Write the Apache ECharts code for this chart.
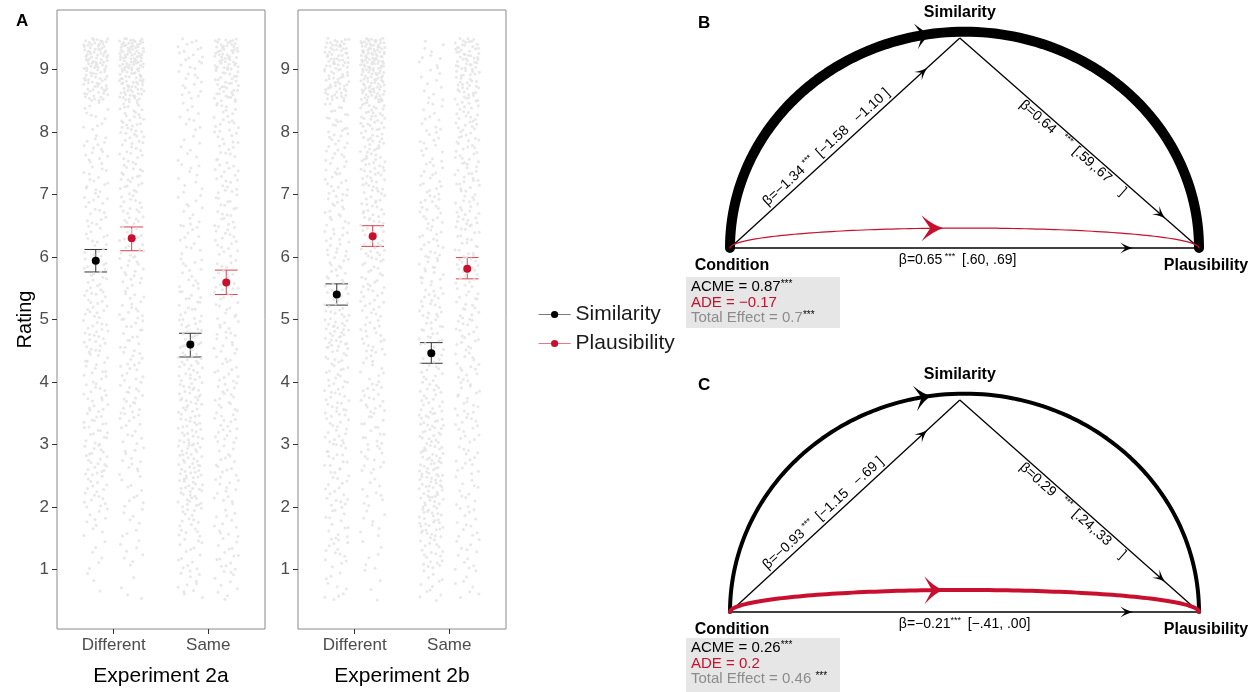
<!DOCTYPE html>
<html>
<head>
<meta charset="utf-8">
<script src="https://cdn.jsdelivr.net/npm/echarts@6/dist/echarts.min.js"></script>
<style>
  html, body { margin: 0; padding: 0; background: #fff; }
  #main { width: 1256px; height: 692px; }
</style>
</head>
<body>
<div id="main"></div>
<script>
// ---- panel A data ----
var conditions = ['Different', 'Same'];
var experiments = ['Experiment 2a', 'Experiment 2b'];
var yTicks = [1, 2, 3, 4, 5, 6, 7, 8, 9];
// lower edge of each half-point rating bin
var binLow = [0.5, 1, 1.5, 2, 2.5, 3, 3.5, 4, 4.5, 5, 5.5, 6, 6.5, 7, 7.5, 8, 8.5, 9];

// number of ratings per bin
var simDiff2a = [3, 6, 10, 18, 22, 20, 18, 18, 22, 20, 18, 16, 16, 16, 16, 12, 45, 60];
var plaDiff2a = [4, 8, 8, 10, 12, 14, 18, 16, 16, 16, 18, 18, 20, 22, 22, 28, 55, 70];
var simSame2a = [12, 14, 18, 30, 32, 28, 28, 24, 22, 18, 14, 12, 12, 10, 8, 10, 14, 18];
var plaSame2a = [10, 14, 12, 14, 14, 18, 18, 16, 16, 16, 16, 18, 18, 18, 18, 20, 35, 50];
var simDiff2b = [10, 14, 14, 16, 18, 20, 22, 20, 32, 22, 18, 18, 18, 18, 18, 20, 40, 50];
var plaDiff2b = [4, 6, 8, 10, 14, 16, 18, 14, 18, 18, 20, 22, 24, 28, 30, 35, 60, 75];
var simSame2b = [12, 20, 30, 34, 32, 28, 22, 18, 20, 20, 18, 18, 18, 16, 14, 12, 10, 10];
var plaSame2b = [8, 12, 12, 12, 14, 16, 16, 16, 18, 18, 20, 20, 22, 22, 22, 26, 34, 45];

// means and intervals: [Different, Same]
var simMean2a = [5.94, 4.60], simLo2a = [5.76, 4.40], simHi2a = [6.12, 4.78];
var plaMean2a = [6.30, 5.59], plaLo2a = [6.10, 5.40], plaHi2a = [6.48, 5.79];
var simMean2b = [5.40, 4.46], simLo2b = [5.23, 4.30], simHi2b = [5.57, 4.63];
var plaMean2b = [6.33, 5.81], plaLo2b = [6.17, 5.65], plaHi2b = [6.50, 5.99];

// ---- panels B / C data ----
var nodeNames = ['Condition', 'Similarity', 'Plausibility'];
var coefB = ['β=−1.34', 'β=0.64', 'β=0.65'];
var ciB = ['[−1.58   −1.10 ]', '[.59,.67    ]', '[.60, .69]'];
var effB = ['ACME = 0.87', 'ADE = −0.17', 'Total Effect = 0.7'];
var effStarsB = ['***', '', '***'];
var coefC = ['β=−0.93', 'β=0.29', 'β=−0.21'];
var ciC = ['[−1.15   −.69 ]', '[.24,.33    ]', '[−.41, .00]'];
var effC = ['ACME = 0.26', 'ADE = 0.2', 'Total Effect = 0.46 '];
var effStarsC = ['***', '', '***'];

var FONT = '"Liberation Sans", Arial, sans-serif';
var RED = '#c8102e';
var DODGE = 0.19;

// van der Corput style sequence, used only to spread points inside a bin
function halton(n, base) {
  var f = 1, r = 0;
  while (n > 0) { f = f / base; r += f * (n % base); n = Math.floor(n / base); }
  return r;
}

// deterministic jitter inside each rating bin
function jitterPoints(counts, xc, seed) {
  var pts = [];
  counts.forEach(function (n, i) {
    for (var k = 0; k < n; k++) {
      var idx = seed * 211 + i * 37 + k + 1;
      var u = halton(idx, 2);
      var v = halton(idx, 3);
      pts.push([xc + (u - 0.5) * 0.26, binLow[i] + v * 0.5]);
    }
  });
  return pts;
}

function errorBarItem(color) {
  return function (params, api) {
    var x = api.value(0);
    var lo = api.coord([x, api.value(1)]);
    var hi = api.coord([x, api.value(2)]);
    var half = api.size([0.12, 0])[0];
    var st = { stroke: color, lineWidth: 1 };
    return {
      type: 'group',
      children: [
        { type: 'line', shape: { x1: lo[0], y1: lo[1], x2: hi[0], y2: hi[1] }, style: st },
        { type: 'line', shape: { x1: lo[0] - half, y1: lo[1], x2: lo[0] + half, y2: lo[1] }, style: st },
        { type: 'line', shape: { x1: hi[0] - half, y1: hi[1], x2: hi[0] + half, y2: hi[1] }, style: st }
      ]
    };
  };
}

function panelSeries(idx, cols, sim, pla) {
  var pts = [].concat(
    jitterPoints(cols[0], 1 - DODGE, idx * 4 + 1), jitterPoints(cols[1], 1 + DODGE, idx * 4 + 2),
    jitterPoints(cols[2], 2 - DODGE, idx * 4 + 3), jitterPoints(cols[3], 2 + DODGE, idx * 4 + 4));
  var simX = [1 - DODGE, 2 - DODGE], plaX = [1 + DODGE, 2 + DODGE];
  return [{
    type: 'scatter', xAxisIndex: idx, yAxisIndex: idx, silent: true,
    symbolSize: 3, itemStyle: { color: '#e2e2e2' }, data: pts
  }, {
    type: 'custom', xAxisIndex: idx, yAxisIndex: idx, silent: true,
    renderItem: errorBarItem('#333'), encode: { x: 0, y: [1, 2] },
    data: simX.map(function (x, i) { return [x, sim[1][i], sim[2][i]]; })
  }, {
    type: 'custom', xAxisIndex: idx, yAxisIndex: idx, silent: true,
    renderItem: errorBarItem('#d8404f'), encode: { x: 0, y: [1, 2] },
    data: plaX.map(function (x, i) { return [x, pla[1][i], pla[2][i]]; })
  }, {
    name: 'Similarity', type: 'line', xAxisIndex: idx, yAxisIndex: idx, silent: true,
    symbol: 'circle', symbolSize: 8, itemStyle: { color: '#000' },
    lineStyle: { color: '#7a7a7a', opacity: 0 },
    data: simX.map(function (x, i) { return [x, sim[0][i]]; })
  }, {
    name: 'Plausibility', type: 'line', xAxisIndex: idx, yAxisIndex: idx, silent: true,
    symbol: 'circle', symbolSize: 8, itemStyle: { color: RED },
    lineStyle: { color: '#e27a88', opacity: 0 },
    data: plaX.map(function (x, i) { return [x, pla[0][i]]; })
  }];
}

// ---- mediation diagram ----
var nodePos = [[0, 0], [0.49, 1], [1, 0]];

function arrowHead(tip, ang, len, wid, color) {
  var ca = Math.cos(ang), sa = Math.sin(ang);
  function pt(a, b) {
    return (tip[0] + a * ca - b * sa).toFixed(2) + ' ' + (tip[1] + a * sa + b * ca).toFixed(2);
  }
  var d = 'M' + pt(0, 0) +
    'Q' + pt(-len * 0.45, -wid * 0.1) + ' ' + pt(-len, -wid / 2) +
    'L' + pt(-len * 0.6, 0) +
    'L' + pt(-len, wid / 2) +
    'Q' + pt(-len * 0.45, wid * 0.1) + ' ' + pt(0, 0) + 'Z';
  return { type: 'path', shape: { pathData: d }, style: { fill: color } };
}

function lerp(a, b, t) { return [a[0] + (b[0] - a[0]) * t, a[1] + (b[1] - a[1]) * t]; }

function diagramItem(d) {
  return function (params, api) {
    var c = api.coord(nodePos[0]), s = api.coord(nodePos[1]), p = api.coord(nodePos[2]);
    var kids = [];
    function onEllipse(ry, t) {
      return api.coord([0.5 - 0.5 * Math.cos(t), ry * Math.sin(t)]);
    }
    function tAt(x) { return Math.acos((0.5 - x) / 0.5); }
    var arc = [], red = [];
    for (var i = 0; i <= 120; i++) {
      var t = Math.PI * i / 120;
      arc.push(onEllipse(1.03, t));
      red.push(onEllipse(d.redRy, t));
    }
    // straight paths
    var lineSt = { stroke: '#000', lineWidth: 1.3 };
    kids.push({ type: 'line', shape: { x1: c[0], y1: c[1], x2: s[0], y2: s[1] }, style: lineSt });
    kids.push({ type: 'line', shape: { x1: s[0], y1: s[1], x2: p[0], y2: p[1] }, style: lineSt });
    kids.push({ type: 'line', shape: { x1: c[0], y1: c[1], x2: p[0], y2: p[1] }, style: lineSt });
    [[c, s], [s, p], [c, p]].forEach(function (e) {
      var tip = lerp(e[0], e[1], 0.86);
      var ang = Math.atan2(e[1][1] - e[0][1], e[1][0] - e[0][0]);
      kids.push(arrowHead(tip, ang, 13, 11, '#000'));
    });
    // ACME arc and ADE curve
    kids.push({ type: 'polyline', shape: { points: arc },
      style: { stroke: '#000', lineWidth: d.acmeW, fill: null, lineCap: 'round', lineJoin: 'round' } });
    kids.push({ type: 'polyline', shape: { points: red },
      style: { stroke: RED, lineWidth: d.adeW, fill: null, lineCap: 'round' } });
    var a1 = onEllipse(1.03, tAt(0.43)), a0 = onEllipse(1.03, tAt(0.40));
    kids.push(arrowHead(a1, Math.atan2(a1[1] - a0[1], a1[0] - a0[0]), d.arcArrow[0], d.arcArrow[1], '#000'));
    var r1 = onEllipse(d.redRy, tAt(0.455)), r0 = onEllipse(d.redRy, tAt(0.43));
    kids.push(arrowHead(r1, Math.atan2(r1[1] - r0[1], r1[0] - r0[0]), d.redArrow[0], d.redArrow[1], RED));

    // edge labels
    var rich = {
      n: { fontSize: 14, fontFamily: FONT, fill: '#000', lineHeight: 16 },
      s: { fontSize: 9, fontFamily: FONT, fill: '#000', lineHeight: 16, verticalAlign: 'top' }
    };
    var rot1 = -Math.atan2(s[1] - c[1], s[0] - c[0]);
    var q1 = lerp(c, s, 0.18);
    kids.push({ type: 'text', x: q1[0] - 1, y: q1[1] - 1, rotation: rot1,
      style: { text: '{n|' + d.coef[0] + '} {s|***}  {n|' + d.ci[0] + '}', rich: rich, align: 'left', verticalAlign: 'bottom' } });
    var rot2 = -Math.atan2(p[1] - s[1], p[0] - s[0]);
    var q2 = lerp(s, p, 0.28);
    kids.push({ type: 'text', x: q2[0], y: q2[1], rotation: rot2,
      style: { text: '{n|' + d.coef[1] + '}   {s|***}  {n|' + d.ci[1] + '}', rich: rich, align: 'left', verticalAlign: 'top' } });
    var q3 = lerp(c, p, 0.36);
    kids.push({ type: 'text', x: q3[0], y: q3[1] + 4,
      style: { text: '{n|' + d.coef[2] + '}{s|' + d.cStars + '}  {n|' + d.ci[2] + '}', rich: rich, align: 'left', verticalAlign: 'top' } });

    // node labels
    var nodeStyle = { fontSize: 16, fontWeight: 'bold', fontFamily: FONT, fill: '#000', align: 'center', verticalAlign: 'middle' };
    kids.push({ type: 'text', x: c[0] + 2, y: c[1] + 18, style: Object.assign({ text: nodeNames[0] }, nodeStyle) });
    kids.push({ type: 'text', x: s[0], y: s[1] - 25, style: Object.assign({ text: nodeNames[1] }, nodeStyle) });
    kids.push({ type: 'text', x: p[0] + 7, y: p[1] + 18, style: Object.assign({ text: nodeNames[2] }, nodeStyle) });

    // effect summary box
    var bx = c[0] - 44, by = c[1] + d.boxTop;
    kids.push({ type: 'rect', shape: { x: bx, y: by, width: 154, height: d.boxH }, style: { fill: '#e6e6e6' } });
    var effColors = ['#000', RED, '#8c8c8c'];
    d.eff.forEach(function (t, i) {
      var r = {
        n: { fontSize: 15, fontFamily: FONT, fill: effColors[i], lineHeight: 16 },
        s: { fontSize: 10, fontFamily: FONT, fill: '#000', lineHeight: 16, verticalAlign: 'top' }
      };
      kids.push({ type: 'text', x: bx + 5, y: by + 10 + i * 15.5,
        style: { text: '{n|' + t + '}' + (d.effStars[i] ? '{s|' + d.effStars[i] + '}' : ''), rich: r, align: 'left', verticalAlign: 'middle' } });
    });
    return { type: 'group', children: kids };
  };
}

var diagB = { coef: coefB, ci: ciB, eff: effB, effStars: effStarsB, cStars: ' ***',
  acmeW: 10, adeW: 1.2, redRy: 0.095, arcArrow: [16, 26], redArrow: [22, 26], boxTop: 29, boxH: 51 };
var diagC = { coef: coefC, ci: ciC, eff: effC, effStars: effStarsC, cStars: '***',
  acmeW: 4, adeW: 4, redRy: 0.104, arcArrow: [17, 26], redArrow: [19, 28], boxTop: 26, boxH: 56 };

// ---- axes ----
function ratingX(idx) {
  return {
    type: 'value', gridIndex: idx, min: 0.4, max: 2.6,
    name: experiments[idx], nameLocation: 'middle', nameGap: 37,
    nameTextStyle: { fontSize: 21, color: '#000', fontFamily: FONT },
    axisLine: { show: false }, splitLine: { show: false },
    axisTick: { show: true, length: 5, lineStyle: { color: '#333' }, customValues: [1, 2] },
    axisLabel: { customValues: [1, 2], fontSize: 17, color: '#4d4d4d', fontFamily: FONT, margin: 8,
      formatter: function (v) { return conditions[Math.round(v) - 1]; } }
  };
}
function ratingY(idx) {
  return {
    type: 'value', gridIndex: idx, min: 0.05, max: 9.95,
    name: idx === 0 ? 'Rating' : '', nameLocation: 'middle', nameGap: 20, nameRotate: 90,
    nameTextStyle: { fontSize: 20, color: '#000', fontFamily: FONT },
    axisLine: { show: false }, splitLine: { show: false },
    axisTick: { show: true, length: 5, lineStyle: { color: '#333' }, customValues: yTicks },
    axisLabel: { customValues: yTicks, fontSize: 17, color: '#4d4d4d', fontFamily: FONT, margin: 8 }
  };
}
function hiddenAxis(idx) {
  return { type: 'value', gridIndex: idx, min: 0, max: 1, show: false };
}

var chart = echarts.init(document.getElementById('main'));

var series = []
  .concat(panelSeries(0, [simDiff2a, plaDiff2a, simSame2a, plaSame2a],
    [simMean2a, simLo2a, simHi2a], [plaMean2a, plaLo2a, plaHi2a]))
  .concat(panelSeries(1, [simDiff2b, plaDiff2b, simSame2b, plaSame2b],
    [simMean2b, simLo2b, simHi2b], [plaMean2b, plaLo2b, plaHi2b]));
series.push({ type: 'custom', xAxisIndex: 2, yAxisIndex: 2, silent: true, clip: false,
  renderItem: diagramItem(diagB), data: [[0, 0]] });
series.push({ type: 'custom', xAxisIndex: 3, yAxisIndex: 3, silent: true, clip: false,
  renderItem: diagramItem(diagC), data: [[0, 0]] });

chart.setOption({
  animation: false,
  backgroundColor: '#fff',
  textStyle: { fontFamily: FONT },
  title: [
    { text: 'A', left: 11, top: 8, textStyle: { fontSize: 17, fontWeight: 'bold', color: '#000' } },
    { text: 'B', left: 693, top: 10, textStyle: { fontSize: 17, fontWeight: 'bold', color: '#000' } },
    { text: 'C', left: 693, top: 372, textStyle: { fontSize: 17, fontWeight: 'bold', color: '#000' } }
  ],
  legend: {
    orient: 'vertical', left: 533, top: 299, itemWidth: 32, itemHeight: 9, itemGap: 8,
    selectedMode: false, data: ['Similarity', 'Plausibility'],
    lineStyle: { opacity: 1, width: 1.2 },
    textStyle: { fontSize: 21, color: '#1a1a1a', fontFamily: FONT }
  },
  grid: [
    { left: 57, top: 10, width: 208, height: 623, show: true, borderColor: '#8a8a8a', borderWidth: 1, backgroundColor: '#fff' },
    { left: 298, top: 10, width: 208, height: 623, show: true, borderColor: '#8a8a8a', borderWidth: 1, backgroundColor: '#fff' },
    { left: 730, top: 38, width: 469, height: 210 },
    { left: 730, top: 400, width: 469, height: 212 }
  ],
  xAxis: [ratingX(0), ratingX(1), hiddenAxis(2), hiddenAxis(3)],
  yAxis: [ratingY(0), ratingY(1), hiddenAxis(2), hiddenAxis(3)],
  series: series
});
</script>
</body>
</html>
